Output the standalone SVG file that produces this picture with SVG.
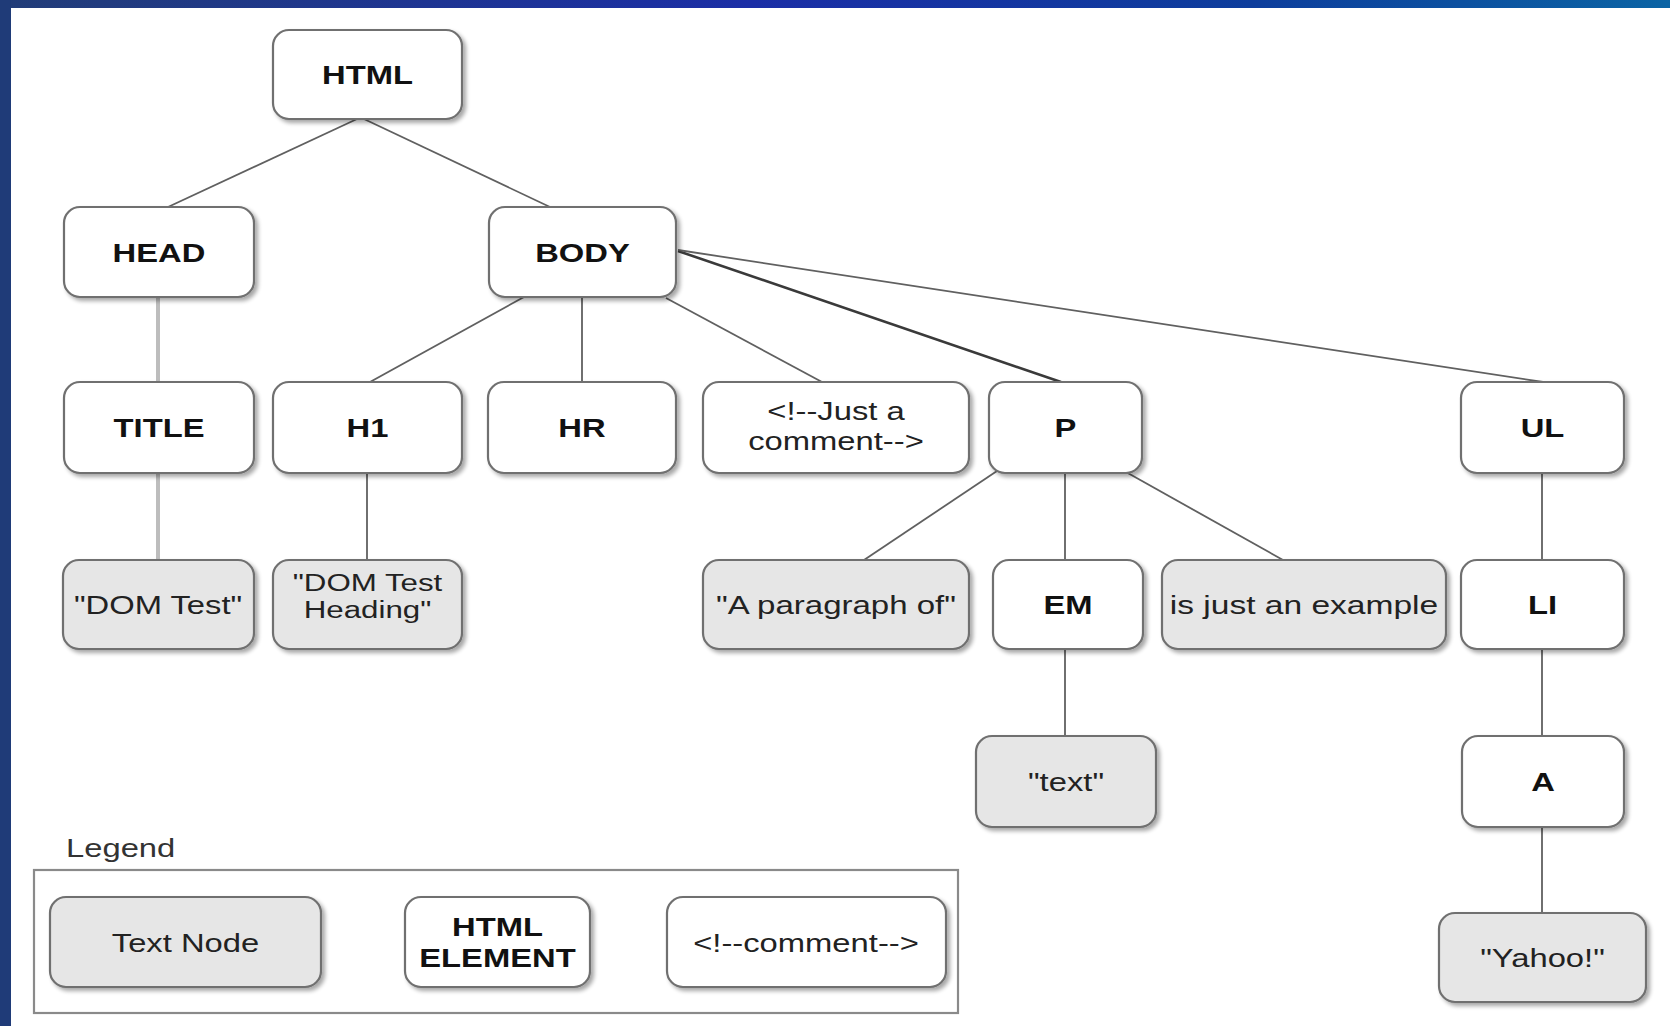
<svg xmlns="http://www.w3.org/2000/svg" width="1670" height="1026" viewBox="0 0 1670 1026">
<defs>
<linearGradient id="topbar" x1="0" y1="0" x2="1" y2="0">
<stop offset="0" stop-color="#223d78"/>
<stop offset="0.45" stop-color="#1b2ea6"/>
<stop offset="0.75" stop-color="#0d3d9c"/>
<stop offset="1" stop-color="#0b64a4"/>
</linearGradient>
<filter id="sh" x="-10%" y="-10%" width="130%" height="130%">
<feGaussianBlur in="SourceAlpha" stdDeviation="2"/>
<feOffset dx="3" dy="3"/>
<feComponentTransfer><feFuncA type="linear" slope="0.35"/></feComponentTransfer>
<feMerge><feMergeNode/><feMergeNode in="SourceGraphic"/></feMerge>
</filter>
</defs>
<style>
.el{fill:#ffffff;stroke:#707070;stroke-width:2.2;filter:url(#sh)}
.tx{fill:#e6e6e6;stroke:#707070;stroke-width:2.2;filter:url(#sh)}
.lb{font-family:"Liberation Sans",Arial,sans-serif;font-size:26px;font-weight:bold;fill:#111;text-anchor:middle}
.lt{font-family:"Liberation Sans",Arial,sans-serif;font-size:26px;font-weight:normal;fill:#222;text-anchor:middle}
.c{stroke:#606060;stroke-width:1.8;fill:none}
.cl{stroke:#bdbdbd;stroke-width:4;fill:none}
.cd{stroke:#3a3a3a;stroke-width:2.6;fill:none}
</style>
<rect x="0" y="0" width="1670" height="1026" fill="#ffffff"/>
<rect x="0" y="0" width="1670" height="8" fill="url(#topbar)"/>
<rect x="0" y="0" width="11" height="1026" fill="#1f3b78"/>

<g id="connectors">
<line class="c" x1="357" y1="119" x2="168" y2="207"/>
<line class="c" x1="364" y1="119" x2="550" y2="207"/>
<line class="cl" x1="158" y1="297" x2="158" y2="382"/>
<line class="cl" x1="158" y1="473" x2="158" y2="560"/>
<line class="c" x1="524" y1="297" x2="370" y2="382"/>
<line class="c" x1="582" y1="297" x2="582" y2="382"/>
<line class="c" x1="666" y1="298" x2="822" y2="382"/>
<line class="cd" x1="678" y1="251" x2="1061" y2="382"/>
<line class="c" x1="678" y1="250" x2="1543" y2="382"/>
<line class="c" x1="367" y1="473" x2="367" y2="560"/>
<line class="c" x1="997" y1="471" x2="864" y2="560"/>
<line class="c" x1="1065" y1="473" x2="1065" y2="560"/>
<line class="c" x1="1126" y1="472" x2="1283" y2="560"/>
<line class="c" x1="1065" y1="649" x2="1065" y2="736"/>
<line class="c" x1="1542" y1="473" x2="1542" y2="560"/>
<line class="c" x1="1542" y1="649" x2="1542" y2="736"/>
<line class="c" x1="1542" y1="827" x2="1542" y2="913"/>
</g>

<g id="n-html"><rect class="el" x="273" y="30" width="189" height="89" rx="16"/><text class="lb" transform="translate(367.5 84) scale(1.26 1)">HTML</text></g>
<g id="n-head"><rect class="el" x="64" y="207" width="190" height="90" rx="16"/><text class="lb" transform="translate(159 261.5) scale(1.26 1)">HEAD</text></g>
<g id="n-body"><rect class="el" x="489" y="207" width="187" height="90" rx="16"/><text class="lb" transform="translate(582.5 261.5) scale(1.26 1)">BODY</text></g>
<g id="n-title"><rect class="el" x="64" y="382" width="190" height="91" rx="16"/><text class="lb" transform="translate(159 437) scale(1.26 1)">TITLE</text></g>
<g id="n-h1"><rect class="el" x="273" y="382" width="189" height="91" rx="16"/><text class="lb" transform="translate(367.5 437) scale(1.26 1)">H1</text></g>
<g id="n-hr"><rect class="el" x="488" y="382" width="188" height="91" rx="16"/><text class="lb" transform="translate(582 437) scale(1.26 1)">HR</text></g>
<g id="n-comment"><rect class="el" x="703" y="382" width="266" height="91" rx="16"/><text class="lt" transform="translate(836 420) scale(1.26 1)"><tspan x="0" y="0">&lt;!--Just a</tspan><tspan x="0" y="30">comment--&gt;</tspan></text></g>
<g id="n-p"><rect class="el" x="989" y="382" width="153" height="91" rx="16"/><text class="lb" transform="translate(1065.5 437) scale(1.26 1)">P</text></g>
<g id="n-ul"><rect class="el" x="1461" y="382" width="163" height="91" rx="16"/><text class="lb" transform="translate(1542.5 437) scale(1.26 1)">UL</text></g>

<g id="n-domtest"><rect class="tx" x="63" y="560" width="191" height="89" rx="16"/><text class="lt" transform="translate(158 614) scale(1.26 1)">"DOM Test"</text></g>
<g id="n-domheading"><rect class="tx" x="273" y="560" width="189" height="89" rx="16"/><text class="lt" style="font-size:23px" transform="translate(367.5 591) scale(1.36 1)"><tspan x="0" y="0">"DOM Test</tspan><tspan x="0" y="27">Heading"</tspan></text></g>
<g id="n-paragraph"><rect class="tx" x="703" y="560" width="266" height="89" rx="16"/><text class="lt" transform="translate(836 614) scale(1.27 1)">"A paragraph of"</text></g>
<g id="n-em"><rect class="el" x="993" y="560" width="150" height="89" rx="16"/><text class="lb" transform="translate(1068 614) scale(1.26 1)">EM</text></g>
<g id="n-example"><rect class="tx" x="1162" y="560" width="284" height="89" rx="16"/><text class="lt" transform="translate(1304 614) scale(1.29 1)">is just an example</text></g>
<g id="n-li"><rect class="el" x="1461" y="560" width="163" height="89" rx="16"/><text class="lb" transform="translate(1542.5 614) scale(1.26 1)">LI</text></g>

<g id="n-text"><rect class="tx" x="976" y="736" width="180" height="91" rx="16"/><text class="lt" transform="translate(1066 791) scale(1.26 1)">"text"</text></g>
<g id="n-a"><rect class="el" x="1462" y="736" width="162" height="91" rx="16"/><text class="lb" transform="translate(1543 791) scale(1.26 1)">A</text></g>
<g id="n-yahoo"><rect class="tx" x="1439" y="913" width="207" height="89" rx="16"/><text class="lt" transform="translate(1542.5 967) scale(1.26 1)">"Yahoo!"</text></g>

<g id="legend">
<text class="lt" style="text-anchor:start;fill:#333" transform="translate(66 857) scale(1.26 1)">Legend</text>
<rect x="34" y="870" width="924" height="143" fill="#ffffff" stroke="#8a8a8a" stroke-width="2.2"/>
<g id="lg-text"><rect class="tx" x="50" y="897" width="271" height="90" rx="16"/><text class="lt" transform="translate(185.5 952) scale(1.26 1)">Text Node</text></g>
<g id="lg-element"><rect class="el" x="405" y="897" width="185" height="90" rx="16"/><text class="lb" transform="translate(497.5 936) scale(1.26 1)"><tspan x="0" y="0">HTML</tspan><tspan x="0" y="31">ELEMENT</tspan></text></g>
<g id="lg-comment"><rect class="el" x="667" y="897" width="279" height="90" rx="16"/><text class="lt" transform="translate(806 952) scale(1.26 1)">&lt;!--comment--&gt;</text></g>
</g>
</svg>
